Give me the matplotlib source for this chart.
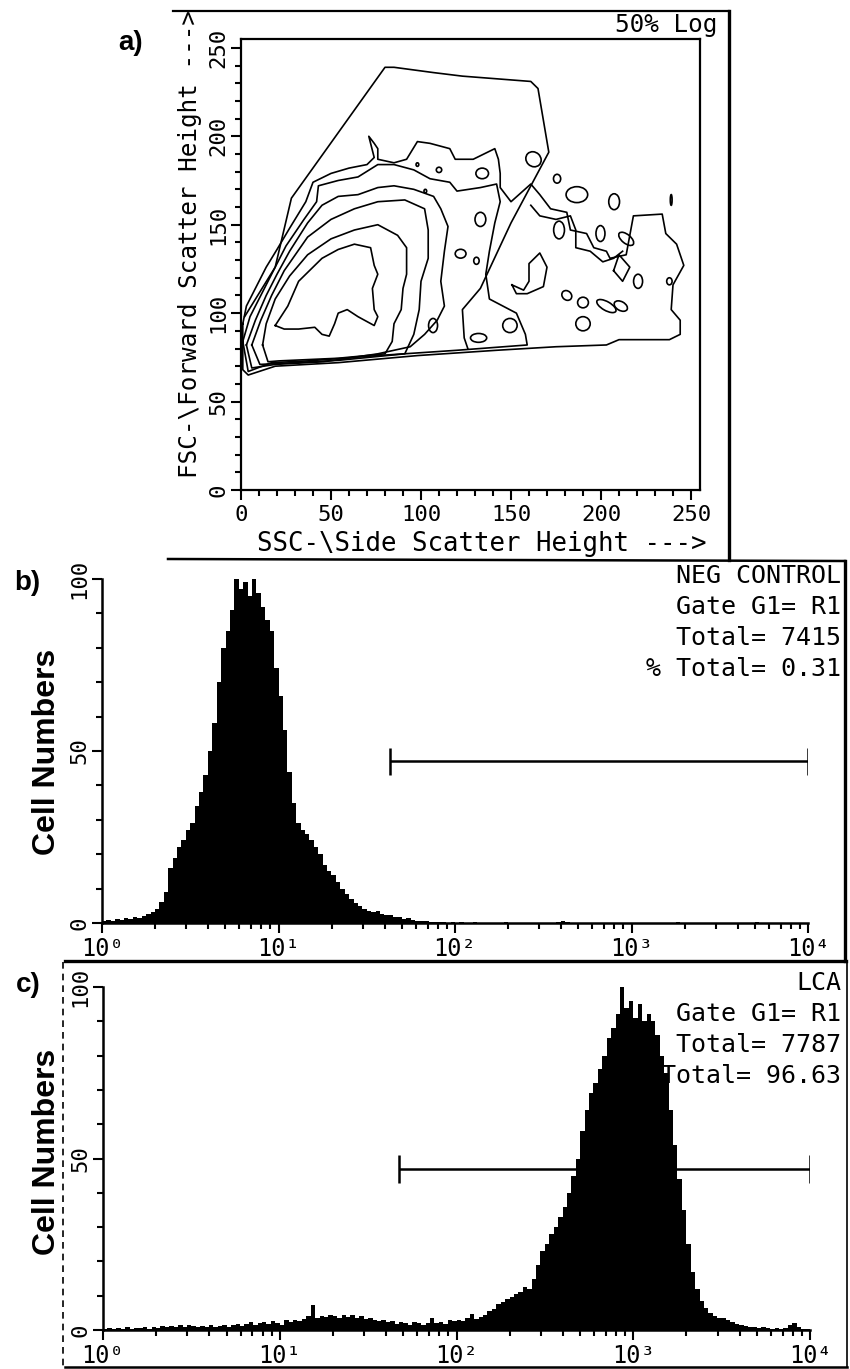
import numpy as np
import matplotlib
matplotlib.use("Agg")
import matplotlib.pyplot as plt
from matplotlib.lines import Line2D
from matplotlib.patches import Ellipse
from matplotlib.ticker import MultipleLocator, LogLocator, NullFormatter

W, H = 850, 1369
MONO = "DejaVu Sans Mono"
BOLD = "Liberation Sans"
plt.rcParams["font.family"] = [MONO, "DejaVu Sans"]

# ---- a) contour outlines (SSC, FSC in channel units)
gate = [(2, 98), (19, 126), (28, 165), (80, 239), (85, 239), (107, 236), (123, 234),
        (161, 231), (165, 227), (171, 191), (150, 151), (133, 114), (123, 102),
        (124, 86), (126, 80)]
c1 = [(19, 93), (26, 104), (32, 118), (45, 131), (54, 136), (63, 139), (72, 137),
      (74, 127), (76, 122), (73, 114), (74, 102), (76, 98), (74, 93), (65, 98),
      (59, 102), (54, 100), (52, 94), (49, 87), (45, 88), (41, 92), (32, 91),
      (24, 91), (19, 93)]
c2 = [(12, 82), (14, 94), (19, 108), (27, 121), (37, 133), (50, 142), (63, 147),
      (76, 150), (87, 144), (92, 137), (92, 122), (90, 114), (89, 102), (85, 94),
      (84, 84), (80, 77), (54, 74.5), (21, 73), (15, 72.5), (12, 82)]
c3 = [(6, 82), (11, 96), (17, 110), (24, 124), (37, 143), (50, 153), (63, 159),
      (76, 163), (91, 164), (102, 159), (104, 147), (104, 131), (100, 118), (99, 102),
      (96, 88), (91, 77), (54, 73.3), (10.5, 71), (6, 82)]
c4 = [(3, 82), (8, 96), (14, 110), (20, 122), (27, 135), (37, 151), (45, 161),
      (54, 166), (65, 167), (76, 171), (85, 172), (96, 170), (107, 166), (111, 159),
      (115, 149), (113, 135), (111, 118), (113, 104), (109, 96), (102, 88), (94, 81),
      (76, 77), (46, 72.5), (19, 71), (6, 69), (3, 82)]
c5 = [(1, 84), (5, 98), (12, 112), (18, 124), (25, 138), (35, 153), (42, 163),
      (43, 172), (54, 175), (65, 177), (76, 184), (85, 184), (96, 181), (105, 176),
      (116, 174), (120, 169), (133, 171), (142, 173), (144, 163), (141, 151),
      (138, 135), (136, 122), (138, 108), (153, 100), (158, 88), (159, 82),
      (120, 79), (76, 76), (37, 73), (17, 72), (4, 67), (1, 84)]
outer = [(1, 94), (3, 104), (8, 114), (14, 126), (20, 136), (27, 148), (36, 163),
         (40, 174), (50, 179), (60, 182), (70, 184), (74, 188), (71, 200), (74, 196),
         (76, 193), (76, 187), (85, 185), (92, 187), (98, 197), (105, 196), (116, 193),
         (119, 187), (129, 187), (141, 193), (143, 187), (144, 179), (144, 171),
         (150, 163), (161, 173), (166, 167), (172, 159), (181, 157), (183, 147),
         (192, 145), (196, 137), (203, 135), (205, 131), (214, 133), (218, 155),
         (234, 156), (236, 145), (242, 139), (246, 127), (240, 116), (239, 102),
         (244, 96), (244, 88), (238, 85), (210, 85), (203, 82), (175, 81), (142, 79),
         (98, 76), (54, 72), (19, 70), (4, 65), (1, 68), (1, 94)]
right1 = [(150.5, 116), (157, 113), (160, 118), (160, 128), (166, 134), (170, 126),
          (168, 115), (159, 111), (153, 111), (150.5, 116)]
right2 = [(161, 161), (166, 155), (175, 153), (183, 155), (186, 147), (186, 137),
          (194, 135), (201, 129), (207, 131), (212, 135)]
right3 = [(207, 124), (210, 133), (216, 126), (212, 118), (207, 124)]

# small closed islands of the contour map
isl_x = [162.5, 134, 186.6, 207.3, 175.6, 133, 176.7, 199.7, 214, 122, 130.8, 181,
         190, 203, 211, 220.6, 190, 149.4, 132, 106.7, 98, 102.4, 110, 238, 239]
isl_y = [187, 179, 167, 163, 176, 153, 147, 145, 142, 133.6, 129.6, 110, 106, 104,
         104, 118, 94, 93, 86, 93, 184, 169, 181, 118, 164]
isl_w = [8, 7, 12, 6, 4, 6, 6, 5, 10, 6, 3, 5, 6, 12, 8, 5, 8, 8, 9, 5, 1.5, 1.5, 3, 3, 1]
isl_h = [9, 6, 9, 9, 5, 8, 10, 9, 5, 5, 4, 6, 6, 5, 5, 8, 8, 8, 5, 8, 2, 2, 3, 4, 6]
isl_ang = [45, 0, 0, 0, 0, 0, 0, 0, -40, 0, 0, 45, 0, -30, -30, 0, 0, 0, 0, 0, 0, 0, 0, 0, 0]

# ---- b), c) histograms: counts per 0.025-decade bin, 10^0 .. 10^4
log_edges = np.linspace(0, 4, 161)
neg_counts = [
    0.6, 1.0, 0.7, 1.2, 0.9, 1.5, 1.1, 1.8, 1.4, 2.0,
    2.6, 3.2, 4.0, 6.0, 9.0, 16.0, 19, 22, 24, 27,
    29, 34, 38, 43, 50, 58, 70, 80, 85, 91,
    100, 97, 99, 95, 100, 96, 92, 88, 85, 74,
    66, 56, 44, 35, 29, 27, 26, 24, 22, 20,
    17, 15, 14, 12, 10, 8.5, 7, 5.8, 4.8, 4.0,
    3.6, 3.2, 3.4, 2.6, 2.2, 2.4, 1.8, 1.6, 1.2, 1.4,
    0.9, 0.7, 0.5, 0.6, 0.3, 0.4, 0.2, 0.3, 0.1, 0.2,
    0, 0.2, 0, 0, 0.3, 0, 0, 0.1, 0, 0,
    0, 0.2, 0, 0, 0, 0, 0.1, 0, 0, 0,
    0, 0, 0, 0.2, 0.6, 0.2, 0, 0, 0, 0,
    0, 0, 0, 0.1, 0, 0, 0, 0, 0, 0,
    0, 0, 0, 0, 0, 0, 0, 0, 0, 0,
    0.2, 0, 0, 0, 0, 0, 0, 0, 0, 0,
    0, 0, 0, 0, 0, 0, 0, 0, 0.2, 0,
    0, 0, 0, 0, 0, 0, 0, 0, 0, 0,
]
lca_counts = [
    0.3, 0.5, 0.2, 0.6, 0.4, 0.8, 0.3, 0.5, 0.6, 0.9,
    0.4, 1.0, 0.7, 1.3, 0.8, 1.2, 0.9, 1.5, 1.0, 1.4,
    1.1, 0.8, 1.3, 1.0, 1.4, 0.9, 1.2, 1.6, 1.0, 1.5,
    1.8, 1.3, 1.7, 2.2, 1.5, 2.0, 2.4, 1.8, 2.6, 2.0,
    1.6, 2.8, 2.2, 3.0, 2.5, 3.2, 4.0, 7.2, 3.5, 4.2,
    3.8, 4.5, 4.0, 3.6, 4.3, 3.8, 4.4, 3.5, 4.0, 3.2,
    3.6, 2.8, 2.5, 3.0, 2.2, 2.6, 1.8, 2.4, 2.0, 1.6,
    2.2, 1.9, 1.5, 2.1, 3.6, 2.0, 2.4, 1.8, 2.8, 2.5,
    3.0, 2.6, 3.4, 4.6, 3.2, 3.8, 4.4, 5.5, 6.0, 7.5,
    8.2, 9.0, 9.5, 10.5, 11.0, 12.5, 12, 15, 19, 23,
    25, 28, 30, 33, 36, 40, 45, 50, 58, 64,
    69, 72, 76, 80, 85, 88, 92, 100, 94, 96,
    91, 95, 90, 92, 90, 86, 80, 75, 64, 54,
    44, 35, 25, 17, 12, 8.5, 6.5, 5.0, 4.0, 3.4,
    3.5, 2.8, 2.4, 1.8, 1.5, 1.2, 1.0, 0.8, 0.6, 0.8,
    0.5, 0.4, 0.5, 0.3, 0.6, 1.5, 2.0, 0.8, 0.4, 0.3,
]
neg_marker = (43, 10000)
lca_marker = (47, 10000)
marker_level = 47
neg_text = ["NEG CONTROL", "Gate G1= R1", "Total= 7415", "% Total= 0.31"]
lca_text = ["LCA", "Gate G1= R1", "Total= 7787", "% Total= 96.63"]
decade_ticks = [1, 10, 100, 1000, 10000]
decade_labels = ["10⁰", "10¹", "10²", "10³", "10⁴"]


def box(l, t, r, b):
    return [l / W, 1 - b / H, (r - l) / W, (b - t) / H]


def fx(x):
    return x / W


def fy(y):
    return 1 - y / H


def frame_line(x0, y0, x1, y1, lw=1.6, ls="-"):
    fig.add_artist(Line2D([fx(x0), fx(x1)], [fy(y0), fy(y1)], transform=fig.transFigure,
                          color="black", lw=lw, ls=ls))


fig = plt.figure(figsize=(8.5, 13.69), dpi=100)

# ---------------- panel a
ax = fig.add_axes(box(241, 39, 700, 490))
for pts in [gate, c1, c2, c3, c4, c5, outer, right1, right2, right3]:
    xs, ys = zip(*pts)
    ax.plot(xs, ys, color="black", lw=1.2)
for x, y, w, h, a in zip(isl_x, isl_y, isl_w, isl_h, isl_ang):
    ax.add_patch(Ellipse((x, y), w, h, angle=a, fill=False, ec="black", lw=1.2))
ax.set_xlim(0, 255)
ax.set_ylim(0, 255)
ax.xaxis.set_major_locator(MultipleLocator(50))
ax.xaxis.set_minor_locator(MultipleLocator(10))
ax.yaxis.set_major_locator(MultipleLocator(50))
ax.yaxis.set_minor_locator(MultipleLocator(10))
ax.tick_params(which="both", direction="out", width=1.5)
ax.tick_params(which="major", length=7)
ax.tick_params(which="minor", length=4.5)
ax.tick_params(axis="x", labelsize=16, pad=4)
ax.tick_params(axis="y", labelsize=16, pad=2)
for lab in ax.get_yticklabels():
    lab.set_rotation(90)
    lab.set_va("center")
for s in ax.spines.values():
    s.set_linewidth(1.6)
fig.text(fx(482), fy(544), "SSC-\\Side Scatter Height --->", fontsize=18.5,
         ha="center", va="center")
fig.text(fx(190), fy(244), "FSC-\\Forward Scatter Height --->", fontsize=17.5,
         ha="center", va="center", rotation=90)
fig.text(fx(717), fy(25), "50% Log", fontsize=17.5, ha="right", va="center")
fig.text(fx(131), fy(43), "a)", family=BOLD, weight="bold", fontsize=20,
         ha="center", va="center")


# ---------------- panels b and c
def hist_panel(rect, counts, marker, lines, text_top):
    hx = fig.add_axes(rect)
    hx.stairs(counts, 10 ** log_edges, fill=True, color="black", zorder=3)
    hx.hlines(marker_level, marker[0], marker[1], color="black", lw=1.8, zorder=2)
    hx.vlines(marker, marker_level - 4, marker_level + 4, color="black", lw=1.8, zorder=2)
    hx.set_xscale("log")
    hx.set_xlim(1, 10000)
    hx.set_ylim(0, 100)
    hx.spines["top"].set_visible(False)
    hx.spines["right"].set_visible(False)
    for s in ["left", "bottom"]:
        hx.spines[s].set_linewidth(1.8)
    hx.set_xticks(decade_ticks, decade_labels)
    hx.xaxis.set_minor_locator(LogLocator(base=10, subs=np.arange(2, 10)))
    hx.xaxis.set_minor_formatter(NullFormatter())
    hx.set_yticks([0, 50, 100])
    hx.yaxis.set_minor_locator(MultipleLocator(10))
    hx.tick_params(which="both", direction="out", width=1.5)
    hx.tick_params(which="major", length=7)
    hx.tick_params(which="minor", length=4.5)
    hx.tick_params(axis="x", labelsize=17, pad=3)
    hx.tick_params(axis="y", labelsize=16, pad=2)
    for lab in hx.get_yticklabels():
        lab.set_rotation(90)
        lab.set_va("center")
    for i, s in enumerate(lines):
        hx.text(fx(841), fy(text_top + 31 * i), s, transform=fig.transFigure,
                ha="right", va="center", fontsize=18, zorder=1, clip_on=False)
    return hx


hist_panel(box(102, 579, 808, 923), neg_counts, neg_marker, neg_text, 576)
hist_panel(box(103, 987, 810, 1330), lca_counts, lca_marker, lca_text, 983)

fig.text(fx(27), fy(583), "b)", family=BOLD, weight="bold", fontsize=20,
         ha="center", va="center")
fig.text(fx(28), fy(985), "c)", family=BOLD, weight="bold", fontsize=20,
         ha="center", va="center")
fig.text(fx(47), fy(752), "Cell Numbers", family=BOLD, weight="bold", fontsize=23,
         ha="center", va="center", rotation=90)
fig.text(fx(47), fy(1152), "Cell Numbers", family=BOLD, weight="bold", fontsize=23,
         ha="center", va="center", rotation=90)

# collage frame lines
frame_line(173, 11, 729, 11)
frame_line(729, 11, 729, 560, lw=2.4)
frame_line(168, 559, 845, 561, lw=1.8)
frame_line(845, 561, 845, 961, lw=2.4)
frame_line(65, 961, 846, 961, lw=2.4)
frame_line(847, 962, 847, 1367, lw=1.2)
frame_line(63, 962, 63, 1367, lw=1.2, ls=(0, (4, 3)))
frame_line(65, 1367, 847, 1367, lw=1.8)

fig.savefig("out.png", dpi=100)
